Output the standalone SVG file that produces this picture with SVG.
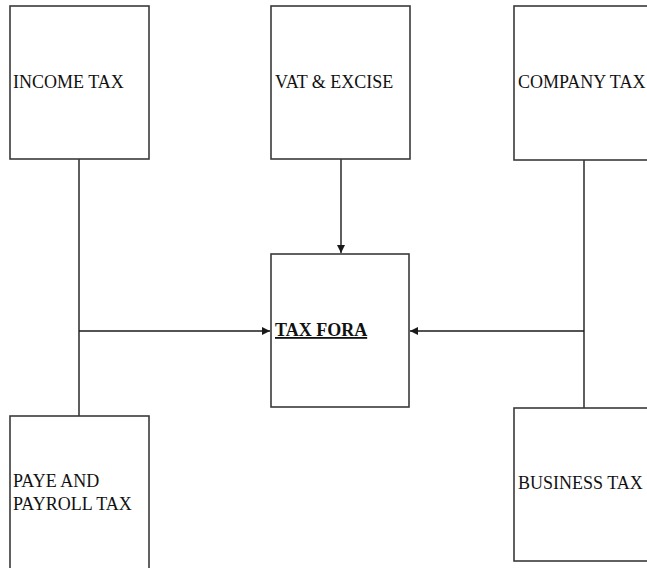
<svg xmlns="http://www.w3.org/2000/svg" width="647" height="568" viewBox="0 0 647 568">
<style>
.box{fill:#fff;stroke:#3a3a3a;stroke-width:1.6}
.lbl{font-family:"Liberation Serif","Times New Roman",serif;font-size:18px;fill:#111}
.bold{font-weight:bold;text-decoration:underline}
.con{stroke:#1a1a1a;stroke-width:1.4;fill:none}
</style>
<defs>
<marker id="ah" viewBox="0 0 10 10" refX="10" refY="5" markerWidth="9" markerHeight="8" markerUnits="userSpaceOnUse" orient="auto">
<path d="M0,0 L10,5 L0,10 z" fill="#1a1a1a"/>
</marker>
</defs>
<rect width="647" height="568" fill="#fff"/>
<g id="connectors">
<line class="con" x1="79" y1="159" x2="79" y2="416"/>
<line class="con" x1="79" y1="331" x2="270" y2="331" marker-end="url(#ah)"/>
<line class="con" x1="341" y1="159" x2="341" y2="253" marker-end="url(#ah)"/>
<line class="con" x1="584" y1="160" x2="584" y2="408"/>
<line class="con" x1="584" y1="331" x2="410" y2="331" marker-end="url(#ah)"/>
</g>
<g id="income-tax">
<rect class="box" x="10" y="6" width="139" height="153"/>
<text class="lbl" x="13" y="88">INCOME TAX</text>
</g>
<g id="vat-excise">
<rect class="box" x="271" y="6" width="139" height="153"/>
<text class="lbl" x="275" y="88">VAT &amp; EXCISE</text>
</g>
<g id="company-tax">
<rect class="box" x="514" y="6" width="139" height="154"/>
<text class="lbl" x="518" y="88">COMPANY TAX</text>
</g>
<g id="tax-fora">
<rect class="box" x="271" y="254" width="138" height="153"/>
<text class="lbl bold" x="275" y="336">TAX FORA</text>
</g>
<g id="paye">
<rect class="box" x="10" y="416" width="139" height="160"/>
<text class="lbl" x="13" y="487">PAYE AND</text>
<text class="lbl" x="13" y="510">PAYROLL TAX</text>
</g>
<g id="business-tax">
<rect class="box" x="514" y="408" width="139" height="153"/>
<text class="lbl" x="518" y="489">BUSINESS TAX</text>
</g>
</svg>
